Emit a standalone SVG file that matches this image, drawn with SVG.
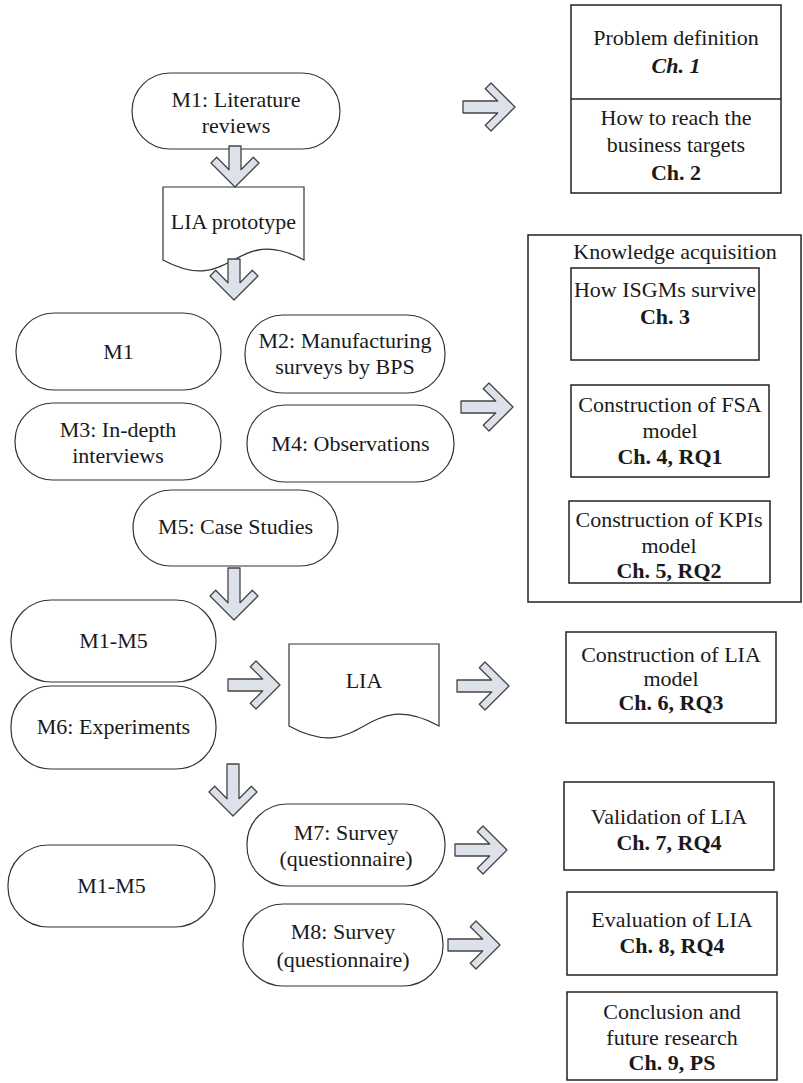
<svg xmlns="http://www.w3.org/2000/svg" xmlns:xlink="http://www.w3.org/1999/xlink" width="803" height="1083" viewBox="0 0 803 1083">
<style>
  .t{font-family:"Liberation Serif","Times New Roman",serif;font-size:22px;fill:#1a1a1a;text-anchor:middle}
  .b{font-weight:bold}
  .bi{font-weight:bold;font-style:italic}
  .rr{fill:#fff;stroke:#333;stroke-width:1.2}
  .bx{fill:#fff;stroke:#222;stroke-width:1.5}
  .doc{fill:#fff;stroke:#333;stroke-width:1.2}
  .ar{fill:#dde2ea;stroke:#444;stroke-width:1.3;stroke-linejoin:round}
</style>
<defs>
  <path id="a52" d="M-52,-6 L-17.3,-6 L-29.7,-18.3 L-24,-24 L0,0 L-24,24 L-29.7,18.3 L-17.3,6 L-52,6 Z"/>
  <path id="a42" d="M-41,-6 L-17.3,-6 L-29.7,-18.3 L-24,-24 L0,0 L-24,24 L-29.7,18.3 L-17.3,6 L-41,6 Z"/>
</defs>
<rect width="803" height="1083" fill="#fff"/>

<!-- Right column boxes -->
<g id="box-ch1-2">
  <rect class="bx" x="571" y="5" width="210" height="188"/>
  <line x1="571" y1="99" x2="781" y2="99" stroke="#222" stroke-width="1.5"/>
  <text class="t" x="676" y="45">Problem definition</text>
  <text class="t bi" x="676" y="73">Ch. 1</text>
  <text class="t" x="676" y="125">How to reach the</text>
  <text class="t" x="676" y="152">business targets</text>
  <text class="t b" x="676" y="180">Ch. 2</text>
</g>
<g id="knowledge">
  <rect class="bx" x="528" y="235" width="273" height="367"/>
  <text class="t" x="675" y="259">Knowledge acquisition</text>
</g>
<g id="box-ch3">
  <rect class="bx" x="571" y="268" width="188" height="92"/>
  <text class="t" x="665" y="297">How ISGMs survive</text>
  <text class="t b" x="665" y="324">Ch. 3</text>
</g>
<g id="box-ch4">
  <rect class="bx" x="571" y="385" width="198" height="92"/>
  <text class="t" x="670" y="412">Construction of FSA</text>
  <text class="t" x="670" y="438">model</text>
  <text class="t b" x="670" y="464">Ch. 4, RQ1</text>
</g>
<g id="box-ch5">
  <rect class="bx" x="569" y="501" width="201" height="82"/>
  <text class="t" x="669" y="527">Construction of KPIs</text>
  <text class="t" x="669" y="553">model</text>
  <text class="t b" x="669" y="578">Ch. 5, RQ2</text>
</g>
<g id="box-ch6">
  <rect class="bx" x="566" y="632" width="210" height="91"/>
  <text class="t" x="671" y="662">Construction of LIA</text>
  <text class="t" x="671" y="686">model</text>
  <text class="t b" x="671" y="710">Ch. 6, RQ3</text>
</g>
<g id="box-ch7">
  <rect class="bx" x="564" y="782" width="210" height="88"/>
  <text class="t" x="669" y="824">Validation of LIA</text>
  <text class="t b" x="669" y="850">Ch. 7, RQ4</text>
</g>
<g id="box-ch8">
  <rect class="bx" x="567" y="892" width="210" height="83"/>
  <text class="t" x="672" y="927">Evaluation of LIA</text>
  <text class="t b" x="672" y="953">Ch. 8, RQ4</text>
</g>
<g id="box-ch9">
  <rect class="bx" x="567" y="992" width="210" height="88"/>
  <text class="t" x="672" y="1019">Conclusion and</text>
  <text class="t" x="672" y="1045">future research</text>
  <text class="t b" x="672" y="1070">Ch. 9, PS</text>
</g>

<!-- Left column nodes -->
<g id="m1-lit">
  <rect class="rr" x="132" y="73" width="208" height="76" rx="38" ry="38"/>
  <text class="t" x="236" y="107">M1: Literature</text>
  <text class="t" x="236" y="133">reviews</text>
</g>
<g id="lia-prototype">
  <path class="doc" d="M163,187 H304 V260 C233.5,222 233.5,298 163,260 Z"/>
  <text class="t" x="233.5" y="229">LIA prototype</text>
</g>
<g id="m1">
  <rect class="rr" x="16" y="313" width="205" height="77" rx="38" ry="38"/>
  <text class="t" x="118.5" y="359">M1</text>
</g>
<g id="m2">
  <rect class="rr" x="245" y="315" width="200" height="78" rx="38" ry="38"/>
  <text class="t" x="345" y="348">M2: Manufacturing</text>
  <text class="t" x="345" y="374">surveys by BPS</text>
</g>
<g id="m3">
  <rect class="rr" x="15" y="403" width="206" height="77" rx="38" ry="38"/>
  <text class="t" x="118" y="437">M3: In-depth</text>
  <text class="t" x="118" y="463">interviews</text>
</g>
<g id="m4">
  <rect class="rr" x="247" y="405" width="207" height="77" rx="38" ry="38"/>
  <text class="t" x="350.5" y="451">M4: Observations</text>
</g>
<g id="m5">
  <rect class="rr" x="133" y="490" width="205" height="76" rx="38" ry="38"/>
  <text class="t" x="235.5" y="534">M5: Case Studies</text>
</g>
<g id="m1-m5-a">
  <rect class="rr" x="11" y="600" width="205" height="82" rx="40" ry="40"/>
  <text class="t" x="113.5" y="648">M1-M5</text>
</g>
<g id="m6">
  <rect class="rr" x="11" y="686" width="205" height="83" rx="40" ry="40"/>
  <text class="t" x="113.5" y="734">M6: Experiments</text>
</g>
<g id="lia">
  <path class="doc" d="M289,644 H439 V726 C364,685 364,767 289,726 Z"/>
  <text class="t" x="364" y="688">LIA</text>
</g>
<g id="m1-m5-b">
  <rect class="rr" x="8" y="845" width="207" height="82" rx="40" ry="40"/>
  <text class="t" x="111.5" y="893">M1-M5</text>
</g>
<g id="m7">
  <rect class="rr" x="247" y="804" width="198" height="82" rx="40" ry="40"/>
  <text class="t" x="346" y="840">M7: Survey</text>
  <text class="t" x="346" y="866">(questionnaire)</text>
</g>
<g id="m8">
  <rect class="rr" x="243" y="904" width="200" height="82" rx="40" ry="40"/>
  <text class="t" x="343" y="939">M8: Survey</text>
  <text class="t" x="343" y="967">(questionnaire)</text>
</g>

<!-- Connectors -->
<g id="connectors">
  <use xlink:href="#a52" href="#a52" class="ar" transform="translate(515,107)"/>
  <use xlink:href="#a42" href="#a42" class="ar" transform="translate(235,187) rotate(90)"/>
  <use xlink:href="#a42" href="#a42" class="ar" transform="translate(234,300) rotate(90)"/>
  <use xlink:href="#a52" href="#a52" class="ar" transform="translate(513,407)"/>
  <use xlink:href="#a52" href="#a52" class="ar" transform="translate(234,620) rotate(90)"/>
  <use xlink:href="#a52" href="#a52" class="ar" transform="translate(280,685)"/>
  <use xlink:href="#a52" href="#a52" class="ar" transform="translate(509,686)"/>
  <use xlink:href="#a52" href="#a52" class="ar" transform="translate(233,816) rotate(90)"/>
  <use xlink:href="#a52" href="#a52" class="ar" transform="translate(507,850)"/>
  <use xlink:href="#a52" href="#a52" class="ar" transform="translate(500,945)"/>
</g>
</svg>
